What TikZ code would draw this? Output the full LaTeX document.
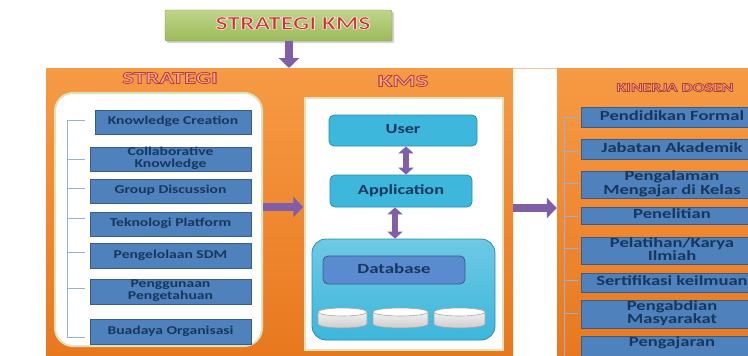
\documentclass[tikz,border=0pt]{standalone}
\usepackage{fontspec}
\setmainfont{Carlito}
\usepackage{graphicx}
\usetikzlibrary{arrows.meta,calc,shadows}
\definecolor{orng}{HTML}{F79A45}
\definecolor{orngd}{HTML}{E8781E}
\definecolor{bluebox}{HTML}{4F81BD}
\definecolor{blueedge}{HTML}{385D8A}
\definecolor{navy}{HTML}{17375E}
\definecolor{cyanbox}{HTML}{3DB7DC}
\definecolor{cyanedge}{HTML}{2A8DB0}
\definecolor{dbblue}{HTML}{5A8BCF}
\definecolor{purp}{HTML}{7F5FA8}
\definecolor{grn}{HTML}{9BBB59}
\definecolor{grnl}{HTML}{BED48A}
\definecolor{wedge}{HTML}{D7E4BD}
\definecolor{treeline}{HTML}{95B3D7}
\definecolor{ttlred}{HTML}{C0392B}
\definecolor{ttlpink}{HTML}{F4A8A0}
\newcommand\hs[2]{\makebox[0pt]{\raisebox{-1.2pt}{\scalebox{#1}[1]{\renewcommand\arraystretch{0.82}\begin{tabular}{@{}c@{}}#2\end{tabular}}}}}
% outlined text: #1 stroke colour as "r g b", #2 fill colour, #3 text
\newcommand\olt[3]{{\color{#2}\special{pdf:literal direct 2 Tr 0.7 w 1 j #1 RG}#3\special{pdf:literal direct 0 Tr}}}
\tikzset{
  panel/.style={draw=none, top color=orng, bottom color=orngd, inner sep=0pt},
  lbox/.style={draw=blueedge, line width=0.8pt, fill=bluebox, text=navy, inner sep=0pt,
     font=\fontsize{12}{13}\selectfont\bfseries},
  rbox/.style={draw=blueedge, line width=0.8pt, fill=bluebox, text=navy, inner sep=0pt,
     font=\fontsize{14}{15}\selectfont\bfseries},
  cbox/.style={draw=cyanedge, line width=0.8pt, fill=cyanbox, rounded corners=5pt, text=navy, inner sep=0pt,
     font=\fontsize{14}{15}\selectfont\bfseries},
  cylf/.style={draw=gray!70, line width=0.6pt, top color=gray!10, bottom color=gray!40},
  parrow/.style={draw=purp, line width=8pt, -{Triangle[width=20pt,length=10pt]}},
  darrow/.style={draw=purp, line width=5.5pt, {Triangle[width=15pt,length=7pt]}-{Triangle[width=15pt,length=7pt]}},
  tree/.style={draw=treeline, line width=0.8pt},
}
% cylinder: centre x, centre y, half width
\newcommand\dbcyl[3]{%
  \path[cylf] ({#1-#3},{#2-6}) -- ({#1-#3},{#2+6}) arc[start angle=180, end angle=0, x radius=#3, y radius=4] -- ({#1+#3},{#2-6}) -- cycle;
  \path[draw=gray!70, line width=0.6pt, fill=white] (#1,{#2-6}) ellipse [x radius=#3, y radius=4];
}
\begin{document}
\begin{tikzpicture}[x=1pt,y=-1pt]
\useasboundingbox (0,0) rectangle (748,356);
\fill[white] (0,0) rectangle (748,356);
% top title
\node[draw=grn!80!black, line width=0.4pt, top color=grnl, bottom color=grn, rounded corners=2pt,
  minimum width=227, minimum height=31, inner sep=0pt,
  drop shadow={opacity=0.35, shadow xshift=2pt, shadow yshift=-2pt},
  font=\fontsize{19}{19}\selectfont\bfseries] (ttl) at (278.5,25.5)
  {\hspace*{29pt}\hs{1.35}{\olt{1 0.85 0.85}{ttlred}{STRATEGI KMS}}};
\draw[orng!60, line width=1pt] (46,68) -- (748,68);
% panels
\node[panel, minimum width=239, minimum height=290] (pl) at (165.5,213) {};
\node[panel, minimum width=228, minimum height=290] (pm) at (399,213) {};
\node[panel, minimum width=200, minimum height=290] (pr) at (657,213) {};
\coordinate (dn) at (289,68);
\draw[parrow] (ttl.south -| dn) -- (dn);
% panel titles
\node[font=\fontsize{17}{17}\selectfont\bfseries] (tl) at (170,80) {\hs{1.43}{\olt{0.72 0.25 0.18}{ttlpink}{STRATEGI}}};
\node[font=\fontsize{17}{17}\selectfont\bfseries] (tm) at (403,83) {\hs{1.57}{\olt{0.72 0.25 0.18}{ttlpink}{KMS}}};
\node[font=\fontsize{12.5}{12.5}\selectfont\bfseries] (tr) at (675,89) {\hs{1.42}{\olt{0.72 0.25 0.18}{ttlpink}{KINERJA DOSEN}}};
% left white box
\node[draw=wedge, line width=2pt, fill=white, rounded corners=18pt, minimum width=207, minimum height=253, inner sep=0pt] (wl) at (158.5,219.5) {};
% left items
\node[lbox, minimum width=156, minimum height=24] (kc) at (173,122) {\hs{1.3}{Knowledge Creation}};
\node[lbox, minimum width=161, minimum height=24] (ck) at (170.5,159) {\hs{1.3}{Collaborative\\Knowledge}};
\node[lbox, minimum width=161, minimum height=24] (gd) at (170.5,191) {\hs{1.3}{Group Discussion}};
\node[lbox, minimum width=161, minimum height=24] (tp) at (170.5,224) {\hs{1.3}{Teknologi Platform}};
\node[lbox, minimum width=161, minimum height=25] (sdm) at (170.5,255.5) {\hs{1.3}{Pengelolaan SDM}};
\node[lbox, minimum width=161, minimum height=25] (pp) at (170.5,291.5) {\hs{1.3}{Penggunaan\\Pengetahuan}};
\node[lbox, minimum width=161, minimum height=25] (bo) at (170.5,331.5) {\hs{1.3}{Buadaya Organisasi}};
% left tree
\coordinate (lt1) at (67,120); \coordinate (lt7) at (67,337);
\draw[tree] (lt1) -- (lt7);
\foreach \yy in {120,159,188,218,252,288,337}{
  \draw[tree] (67,\yy) -- (85,\yy);
}
% middle white box
\node[draw=wedge, line width=1.5pt, fill=white, minimum width=198, minimum height=252, inner sep=0pt] (kmsbox) at (404,224) {};
\node[cbox, minimum width=148, minimum height=31] (user) at (403,130.5) {\hs{1.3}{User}};
\node[cbox, minimum width=142, minimum height=32] (app) at (401,191) {\hs{1.3}{Application}};
\node[draw=cyanedge, line width=0.8pt, top color=cyanbox!75!white, bottom color=cyanbox, rounded corners=14pt,
   minimum width=183, minimum height=101, inner sep=0pt] (db) at (403.5,289.5) {};
\node[draw=blueedge, line width=0.8pt, fill=dbblue, rounded corners=5pt, text=navy, inner sep=0pt,
   minimum width=142, minimum height=28, font=\fontsize{14}{15}\selectfont\bfseries] (dbl) at (394,270) {\hs{1.35}{Database}};
\dbcyl{342.5}{318}{24.5}
\dbcyl{400.5}{318}{27.5}
\dbcyl{459.5}{318}{25.5}
\draw[darrow] ($(user.south)+(3,0)$) -- ($(app.north)+(5,0)$);
\draw[darrow] ($(app.south)+(-6,0)$) -- ($(db.north)+(-8.5,0)$);
% right items
\node[rbox, minimum width=182, minimum height=20] (pf) at (672,117) {\hs{1.33}{Pendidikan Formal}};
\node[rbox, minimum width=182, minimum height=20] (ja) at (672,149) {\hs{1.33}{Jabatan Akademik}};
\node[rbox, minimum width=182, minimum height=27] (pm2) at (672,184.5) {\hs{1.33}{Pengalaman\\Mengajar di Kelas}};
\node[rbox, minimum width=182, minimum height=17] (pn) at (672,215.5) {\hs{1.33}{Penelitian}};
\node[rbox, minimum width=182, minimum height=24] (pk) at (672,251) {\hs{1.33}{Pelatihan/Karya\\Ilmiah}};
\node[rbox, minimum width=182, minimum height=19] (sk) at (672,282.5) {\hs{1.33}{Sertifikasi keilmuan}};
\node[rbox, minimum width=182, minimum height=28] (pg) at (672,314) {\hs{1.33}{Pengabdian\\Masyarakat}};
\node[rbox, minimum width=182, minimum height=28] (pj) at (672,351) {\hs{1.33}{Pengajaran\\\strut}};
% right tree
\coordinate (rt1) at (564,117); \coordinate (rt2) at (564,360);
\draw[tree] (rt1) -- (rt2);
\foreach \yy in {117,151,183,216,248,280,313}{
  \draw[tree] (564,\yy) -- (578,\yy);
}
% arrows between panels
\draw[parrow] ($(wl.east)+(0,-12.5)$) -- ($(kmsbox.west)+(-1,-17)$);
\draw[parrow] ($(pm.east)+(0,-5)$) -- ($(pr.west)+(0,-5)$);
\end{tikzpicture}
\end{document}
